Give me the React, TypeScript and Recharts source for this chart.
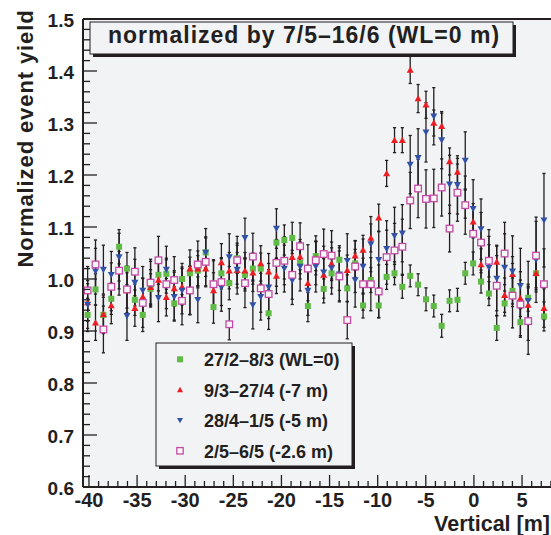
import React from "react";
import {
  ScatterChart,
  Scatter,
  XAxis,
  YAxis,
  CartesianGrid,
  ErrorBar,
  ReferenceLine,
} from "recharts";

const FONT = '"Liberation Sans", Arial, Helvetica, sans-serif';
const INK = "#231f20";
const PLOT_BG = "#f2f3f5";

// bin centres along the vertical [m]
const xPos = [
  -40.14, -39.32, -38.5, -37.68, -36.87, -36.05, -35.23, -34.41, -33.6, -32.78,
  -31.96, -31.14, -30.33, -29.51, -28.69, -27.87, -27.06, -26.24, -25.42, -24.6,
  -23.79, -22.97, -22.15, -21.33, -20.52, -19.7, -18.88, -18.06, -17.25, -16.43,
  -15.61, -14.79, -13.98, -13.16, -12.34, -11.52, -10.71, -9.89, -9.07, -8.25,
  -7.44, -6.62, -5.8, -4.98, -4.17, -3.35, -2.53, -1.71, -0.9, -0.08,
  0.74, 1.56, 2.37, 3.19, 4.01, 4.83, 5.64, 6.46, 7.28,
];

// 27/2–8/3 (WL=0)
const greenY = [
  0.931, 0.98, 0.931, 0.962, 1.062, 1.02, 0.96, 0.931, 0.981, 1.008,
  1.01, 0.953, 1.0, 1.011, 1.016, 1.051, 0.946, 1.011, 0.992, 1.04,
  1.008, 1.02, 1.02, 0.934, 1.07, 1.075, 1.079, 1.031, 0.948, 1.044,
  0.981, 1.011, 1.037, 0.982, 1.03, 0.949, 0.998, 0.949, 1.004, 1.011,
  0.985, 1.006, 0.989, 0.961, 0.948, 0.91, 0.958, 0.96, 1.011, 1.03,
  0.995, 0.972, 0.906, 0.953, 0.977, 0.917, 0.964, 1.011, 0.928,
];
const greenErr = [
  0.032, 0.03, 0.034, 0.03, 0.033, 0.031, 0.03, 0.032, 0.029, 0.031,
  0.03, 0.032, 0.03, 0.031, 0.029, 0.03, 0.031, 0.03, 0.032, 0.029,
  0.031, 0.03, 0.03, 0.031, 0.03, 0.029, 0.03, 0.031, 0.03, 0.028,
  0.027, 0.028, 0.027, 0.026, 0.027, 0.024, 0.024, 0.023, 0.024, 0.022,
  0.022, 0.021, 0.021, 0.022, 0.021, 0.022, 0.021, 0.022, 0.021, 0.022,
  0.022, 0.023, 0.024, 0.024, 0.025, 0.026, 0.026, 0.028, 0.028,
];

// 9/3–27/4 (-7 m)
const redY = [
  0.955, 0.916, 0.932, 0.949, 1.017, 0.978, 0.944, 0.966, 0.984, 0.998,
  0.965, 0.982, 0.985, 1.02, 1.02, 1.02, 0.978, 1.032, 1.016, 1.017,
  1.016, 1.012, 1.03, 1.014, 1.006, 1.035, 1.042, 1.043, 0.992, 1.04,
  1.008, 1.03, 1.008, 1.017, 1.045, 1.056, 1.079, 1.118, 1.203, 1.267,
  1.267, 1.402, 1.347, 1.335, 1.3, 1.294, 1.226, 1.206, 1.144, 1.11,
  1.028, 1.035, 1.033, 0.969, 1.009, 0.963, 0.95, 1.011, 0.944,
];
const redErr = [
  0.036, 0.034, 0.037, 0.035, 0.036, 0.034, 0.035, 0.036, 0.034, 0.035,
  0.036, 0.034, 0.035, 0.036, 0.034, 0.035, 0.034, 0.036, 0.035, 0.034,
  0.035, 0.036, 0.034, 0.035, 0.034, 0.035, 0.034, 0.033, 0.034, 0.032,
  0.031, 0.03, 0.03, 0.029, 0.028, 0.028, 0.027, 0.026, 0.025, 0.024,
  0.024, 0.026, 0.027, 0.026, 0.025, 0.025, 0.026, 0.026, 0.027, 0.028,
  0.03, 0.031, 0.032, 0.033, 0.034, 0.035, 0.036, 0.036, 0.037,
];

// 28/4–1/5 (-5 m)
const blueY = [
  0.951, 1.015, 1.018, 1.008, 1.042, 0.929, 0.993, 0.978, 0.99, 0.964,
  1.018, 0.966, 0.978, 0.978, 0.96, 1.051, 0.99, 0.984, 1.042, 1.018,
  1.079, 0.95, 0.966, 0.984, 1.097, 1.02, 0.997, 1.024, 0.978, 1.024,
  1.013, 1.021, 1.009, 1.035, 0.998, 1.024, 1.067, 1.037, 1.058, 1.083,
  1.088, 1.22, 1.233, 1.282, 1.313, 1.267, 1.182, 1.181, 1.228, 1.135,
  1.096, 1.022, 1.001, 1.022, 1.015, 0.987, 0.958, 1.037, 1.113,
];
const blueErr = [
  0.046, 0.044, 0.047, 0.045, 0.046, 0.047, 0.045, 0.046, 0.044, 0.046,
  0.045, 0.047, 0.045, 0.046, 0.044, 0.046, 0.045, 0.046, 0.045, 0.047,
  0.038, 0.046, 0.045, 0.046, 0.038, 0.045, 0.046, 0.047, 0.048, 0.049,
  0.05, 0.05, 0.051, 0.052, 0.052, 0.053, 0.053, 0.054, 0.054, 0.055,
  0.055, 0.056, 0.056, 0.057, 0.055, 0.055, 0.056, 0.056, 0.055, 0.056,
  0.058, 0.06, 0.062, 0.065, 0.068, 0.072, 0.076, 0.082, 0.09,
];

// 2/5–6/5 (-2.6 m)
const pinkY = [
  0.978, 1.028, 0.903, 0.985, 1.016, 0.98, 1.014, 0.954, 0.993, 1.036,
  0.99, 0.998, 0.958, 0.978, 1.028, 1.033, 0.99, 0.994, 0.913, 1.036,
  0.992, 1.043, 0.982, 0.971, 1.031, 1.035, 1.008, 1.063, 1.02, 1.036,
  1.048, 1.045, 1.005, 0.921, 1.024, 0.99, 0.99, 0.976, 1.042, 1.055,
  1.062, 1.151, 1.174, 1.154, 1.155, 1.176, 1.097, 1.166, 1.142, 1.087,
  1.07, 1.035, 0.987, 1.049, 0.968, 0.951, 0.919, 1.045, 0.99,
];
const pinkErr = [
  0.046, 0.047, 0.045, 0.046, 0.047, 0.045, 0.046, 0.047, 0.045, 0.046,
  0.047, 0.045, 0.046, 0.047, 0.045, 0.046, 0.047, 0.045, 0.03, 0.046,
  0.047, 0.045, 0.046, 0.047, 0.045, 0.046, 0.047, 0.045, 0.046, 0.047,
  0.048, 0.048, 0.049, 0.036, 0.05, 0.05, 0.051, 0.051, 0.052, 0.052,
  0.053, 0.054, 0.056, 0.056, 0.056, 0.055, 0.045, 0.055, 0.056, 0.058,
  0.058, 0.06, 0.058, 0.06, 0.062, 0.063, 0.064, 0.066, 0.068,
];

const yMajor = [0.6, 0.7, 0.8, 0.9, 1.0, 1.1, 1.2, 1.3, 1.4, 1.5];
const xMajor = [-40, -35, -30, -25, -20, -15, -10, -5, 0, 5];

const X_DOMAIN: [number, number] = [-40.62, 8.01];

// minor ticks: 5 divisions per major step
const yTicks: number[] = [];
yMajor.forEach((v, i) => {
  yTicks.push(v);
  if (i < yMajor.length - 1)
    for (let k = 1; k < 5; k++) yTicks.push(+(v + k * 0.02).toFixed(2));
});
const xTicks: number[] = [];
xMajor.forEach((v) => {
  xTicks.push(v);
  for (let k = 1; k < 5; k++) if (v + k <= 8) xTicks.push(v + k);
});

const isMajor = (list: number[], v: number) =>
  list.some((m) => Math.abs(m - v) < 1e-6);

const GREEN = "#5fbb46";
const RED = "#ee1d23";
const BLUE = "#3252a8";
const PINK = "#c44aa6";

const Square = ({ cx, cy, s = 6 }: any) => (
  <rect x={cx - s / 2} y={cy - s / 2} width={s} height={s} fill={GREEN} />
);
const TriUp = ({ cx, cy, s = 7 }: any) => (
  <path
    d={`M${cx - s / 2},${cy + s * 0.4}L${cx + s / 2},${cy + s * 0.4}L${cx},${cy - s / 2}Z`}
    fill={RED}
  />
);
const TriDown = ({ cx, cy, s = 7 }: any) => (
  <path
    d={`M${cx - s / 2},${cy - s * 0.4}L${cx + s / 2},${cy - s * 0.4}L${cx},${cy + s / 2}Z`}
    fill={BLUE}
  />
);
const OpenSquare = ({ cx, cy, s = 6.6 }: any) => (
  <rect
    x={cx - s / 2}
    y={cy - s / 2}
    width={s}
    height={s}
    fill="#f7f7f9"
    stroke={PINK}
    strokeWidth={1.3}
  />
);

const series = [
  { name: "27/2–8/3 (WL=0)", y: greenY, err: greenErr, Marker: Square },
  { name: "9/3–27/4 (-7 m)", y: redY, err: redErr, Marker: TriUp },
  { name: "28/4–1/5 (-5 m)", y: blueY, err: blueErr, Marker: TriDown },
  { name: "2/5–6/5 (-2.6 m)", y: pinkY, err: pinkErr, Marker: OpenSquare },
];

const YTick = ({ x, y, payload }: any) => {
  const major = isMajor(yMajor, payload.value);
  return (
    <g>
      <line x1={x} y1={y} x2={x + (major ? 14 : 7)} y2={y} stroke={INK} strokeWidth={1.3} />
      {major && (
        <text
          x={x - 9}
          y={y + 8}
          textAnchor="end"
          fontFamily={FONT}
          fontWeight="bold"
          fontSize={19}
          fill={INK}
        >
          {payload.value.toFixed(1)}
        </text>
      )}
    </g>
  );
};

const XTick = ({ x, y, payload }: any) => {
  const major = isMajor(xMajor, payload.value);
  return (
    <g>
      <line x1={x} y1={y} x2={x} y2={y - (major ? 12 : 6)} stroke={INK} strokeWidth={1.3} />
      {major && (
        <text
          x={x}
          y={y + 20}
          textAnchor="middle"
          fontFamily={FONT}
          fontWeight="bold"
          fontSize={20}
          fill={INK}
        >
          {payload.value}
        </text>
      )}
    </g>
  );
};

export default function App() {
  return (
    <div style={{ position: "absolute", left: 0, top: 0, width: 551, height: 535 }}>
      <ScatterChart
        width={551}
        height={535}
        margin={{ top: 19, right: 0, bottom: 0, left: 0 }}
      >
        <CartesianGrid fill={PLOT_BG} horizontal={false} vertical={false} />
        <XAxis
          type="number"
          dataKey="x"
          domain={X_DOMAIN}
          allowDataOverflow
          ticks={xTicks}
          interval={0}
          height={48}
          tickSize={0}
          tickMargin={0}
          tick={<XTick />}
          axisLine={{ stroke: INK, strokeWidth: 2 }}
          label={(p: any) => {
            const vb = p.viewBox;
            return (
              <text
                x={vb.x + vb.width - 1}
                y={vb.y + vb.height - 4.5}
                textAnchor="end"
                fontFamily={FONT}
                fontWeight="bold"
                fontSize={21.5}
                fill={INK}
              >
                Vertical [m]
              </text>
            );
          }}
        />
        <YAxis
          type="number"
          dataKey="y"
          domain={[0.6, 1.5]}
          allowDataOverflow
          ticks={yTicks}
          interval={0}
          width={83}
          tickSize={0}
          tickMargin={0}
          tick={<YTick />}
          axisLine={{ stroke: INK, strokeWidth: 2 }}
          label={(p: any) => {
            const vb = p.viewBox;
            const cx = vb.x + 33;
            const cy = vb.y + 119.5;
            return (
              <text
                x={cx}
                y={cy}
                transform={`rotate(-90, ${cx}, ${cy})`}
                textAnchor="middle"
                fontFamily={FONT}
                fontWeight="bold"
                fontSize={22}
                letterSpacing={0.9}
                fill={INK}
              >
                Normalized event yield
              </text>
            );
          }}
        />
        <ReferenceLine y={1.5} stroke={INK} strokeWidth={2} />
        {series.map((s) => (
          <Scatter
            key={s.name}
            name={s.name}
            data={xPos.map((x, i) => ({ x, y: s.y[i], e: s.err[i] }))}
            shape={(p: any) => <s.Marker cx={p.cx} cy={p.cy} />}
            isAnimationActive={false}
          >
            <ErrorBar
              dataKey="e"
              direction="y"
              width={1.6}
              stroke={INK}
              strokeWidth={1.3}
              isAnimationActive={false}
            />
          </Scatter>
        ))}
      </ScatterChart>

      <svg
        width={551}
        height={535}
        style={{ position: "absolute", left: 0, top: 0, pointerEvents: "none" }}
      >
        {/* title box */}
        <rect x={93} y={25} width={423} height={32} fill={INK} />
        <rect x={90} y={22} width={423} height={32} fill={PLOT_BG} stroke={INK} strokeWidth={1} />
        <text
          x={304}
          y={43}
          textAnchor="middle"
          fontFamily={FONT}
          fontWeight="bold"
          fontSize={23}
          letterSpacing={1}
          fill={INK}
        >
          normalized by 7/5–16/6 (WL=0 m)
        </text>

        {/* legend box */}
        <rect x={159} y={346} width={196} height={123} fill={INK} />
        <rect x={156} y={343} width={196} height={123} fill={PLOT_BG} stroke={INK} strokeWidth={1} />
        {series.map((s, i) => {
          const cy = 359.3 + i * 30.5;
          return (
            <g key={s.name}>
              <s.Marker cx={180} cy={cy} s={i === 3 ? 6.4 : 6} />
              <text
                x={204}
                y={cy + 6.7}
                fontFamily={FONT}
                fontWeight="bold"
                fontSize={18}
                fill={INK}
              >
                {s.name}
              </text>
            </g>
          );
        })}
      </svg>
    </div>
  );
}
